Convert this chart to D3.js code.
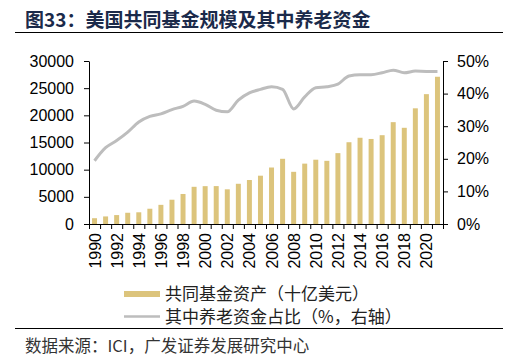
<!DOCTYPE html>
<html><head><meta charset="utf-8">
<script src="https://cdn.jsdelivr.net/npm/d3@7"></script>
<style>
body{margin:0;background:#fff;}
svg{display:block;}
</style></head>
<body><svg id="c" width="525" height="362"></svg>
<script>
const years = d3.range(1990, 2022);
const assets = [1065,1393,1643,2070,2155,2811,3526,4468,5525,6846,6965,6975,6383,7402,8095,8891,10398,12001,9604,11113,11833,11627,13045,15049,15873,15650,16344,18746,17707,21291,23900,27100];
const pensionShare = [19.4,23.4,25.6,28.2,31.3,33.0,33.8,35.1,36.1,37.7,36.7,34.9,34.4,38.0,40.2,41.3,42.1,41.3,35.3,39.0,41.8,42.1,42.9,45.4,45.8,45.8,46.4,47.2,46.4,46.9,46.8,46.8];
const leftTicks = [0,5000,10000,15000,20000,25000,30000];
const rightTicks = [0,10,20,30,40,50];
const title = "图33：美国共同基金规模及其中养老资金";
const legendLabels = ["共同基金资产（十亿美元）","其中养老资金占比（%，右轴）"];
const source = "数据来源：ICI，广发证券发展研究中心";

const svg = d3.select("#c");
const L = 89, R = 443, T = 61, B = 224;
const numFont = "'Liberation Sans', Arial, sans-serif";
const cjkFont = "'Noto Sans CJK SC', sans-serif";

const x = d3.scaleBand().domain(years).range([L, R]).paddingInner(0.55).paddingOuter(0.275);
const y = d3.scaleLinear().domain([0, 30000]).range([B, T]);
const y2 = d3.scaleLinear().domain([0, 50]).range([B, T]);

// title
svg.append("text").attr("x", 25).attr("y", 27).attr("font-family", cjkFont).attr("font-weight", 700)
  .attr("font-size", 19).attr("fill", "#1b2a4a").text(title);
svg.append("line").attr("x1", 15).attr("x2", 503).attr("y1", 32.5).attr("y2", 32.5).attr("stroke", "#000").attr("stroke-width", 1);

// bars
svg.append("g").selectAll("rect").data(years).join("rect")
  .attr("x", d => x(d)).attr("width", x.bandwidth())
  .attr("y", (d, i) => y(assets[i])).attr("height", (d, i) => y(0) - y(assets[i]))
  .attr("fill", "#dcc47c");

// line
const line = d3.line().x(d => x(d) + x.bandwidth() / 2).y((d, i) => y2(pensionShare[i])).curve(d3.curveMonotoneX);
svg.append("path").datum(years).attr("d", line).attr("fill", "none").attr("stroke", "#bdbdbd").attr("stroke-width", 3);

// left axis
const ga = svg.append("g").attr("transform", `translate(${L},0)`)
  .call(d3.axisLeft(y).tickValues(leftTicks).tickSize(5).tickSizeOuter(0).tickPadding(10).tickFormat(d3.format("d")));
ga.selectAll("text").attr("font-family", numFont).attr("font-size", 16).attr("fill", "#000");
ga.select(".domain").attr("stroke", "#000");

// right axis
const gr = svg.append("g").attr("transform", `translate(${R},0)`)
  .call(d3.axisRight(y2).tickValues(rightTicks).tickSize(5).tickSizeOuter(0).tickPadding(9).tickFormat(d => d + "%"));
gr.selectAll("text").attr("font-family", numFont).attr("font-size", 16).attr("fill", "#000");
gr.select(".domain").attr("stroke", "#000");

// bottom axis: boundary ticks
const xb = d3.scaleLinear().domain([0, years.length]).range([L, R]);
const gb = svg.append("g").attr("transform", `translate(0,${B})`)
  .call(d3.axisBottom(xb).tickValues(d3.range(0, years.length + 1)).tickSize(5).tickSizeOuter(0).tickFormat(""));
gb.select(".domain").attr("stroke", "#000");

// x labels
svg.append("g").selectAll("text").data(years.filter(d => d % 2 === 0)).join("text")
  .attr("transform", d => `translate(${x(d) + x.bandwidth() / 2 + 6},${B + 9}) rotate(-90)`)
  .attr("text-anchor", "end").attr("font-family", numFont).attr("font-size", 16).attr("fill", "#000")
  .text(d => d);

// legend
svg.append("rect").attr("x", 124).attr("y", 291).attr("width", 36).attr("height", 6).attr("fill", "#dcc47c");
svg.append("line").attr("x1", 124).attr("x2", 160).attr("y1", 316.5).attr("y2", 316.5).attr("stroke", "#bdbdbd").attr("stroke-width", 2.5);
svg.append("g").selectAll("text").data(legendLabels).join("text")
  .attr("x", 165).attr("y", (d, i) => 300 + i * 23)
  .attr("font-family", cjkFont).attr("font-size", 17).attr("fill", "#222").text(d => d);

svg.append("line").attr("x1", 15).attr("x2", 503).attr("y1", 328.5).attr("y2", 328.5).attr("stroke", "#000").attr("stroke-width", 1);
svg.append("text").attr("x", 25).attr("y", 352).attr("font-family", cjkFont).attr("font-size", 16.5).attr("fill", "#333").text(source);
</script></body></html>
